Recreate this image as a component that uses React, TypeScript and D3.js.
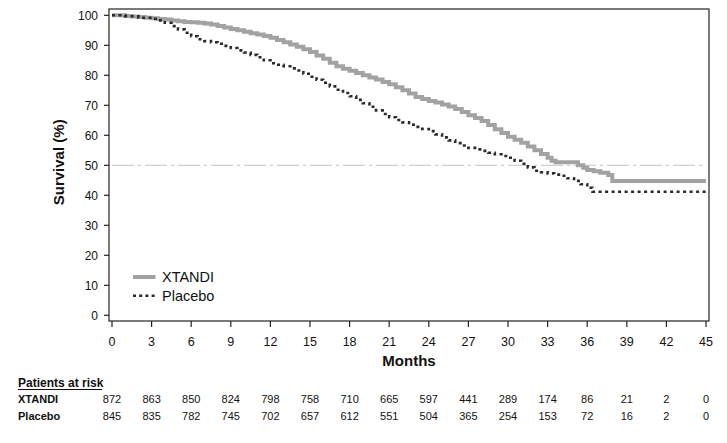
import React from "react";
import * as d3 from "d3";

const xtandiMonths = [0, 0.5, 1, 1.5, 2, 2.5, 3, 3.5, 4, 4.5, 5, 5.5, 6, 6.5, 7, 7.5, 8, 8.5, 9, 9.5, 10, 10.5, 11, 11.5, 12, 12.5, 13, 13.5, 14, 14.5, 15, 15.5, 16, 16.5, 17, 17.5, 18, 18.5, 19, 19.5, 20, 20.5, 21, 21.5, 22, 22.5, 23, 23.5, 24, 24.5, 25, 25.5, 26, 26.5, 27, 27.5, 28, 28.5, 29, 29.5, 30, 30.5, 31, 31.5, 32, 32.5, 33, 33.3, 33.6, 35.3, 35.7, 36, 36.5, 37, 37.6, 37.9, 45];
const xtandiSurv = [100, 100, 99.8, 99.6, 99.4, 99.2, 99, 98.8, 98.6, 98.3, 98, 97.8, 97.7, 97.5, 97.3, 96.9, 96.4, 95.9, 95.4, 95, 94.5, 94, 93.6, 93.1, 92.5, 91.8, 91, 90.3, 89.5, 88.7, 87.8, 86.6, 85.5, 84.2, 83, 82.2, 81.5, 80.8, 80, 79.3, 78.6, 77.8, 77, 76, 75, 73.9, 72.8, 72.1, 71.4, 70.9, 70.3, 69.6, 68.8, 67.8, 66.7, 65.8, 64.8, 63.4, 62, 60.8, 59.5, 58.5, 57.5, 56.3, 55, 53.8, 52.5, 51.5, 51, 50, 49.2, 48.4, 48, 47.5, 46.8, 44.8, 44.8];

const placeboMonths = [0, 1, 2, 3, 3.5, 4, 4.5, 5, 5.5, 6, 6.5, 7, 7.5, 8, 8.5, 9, 9.5, 10, 10.5, 11, 11.5, 12, 12.5, 13, 13.5, 14, 14.5, 15, 15.5, 16, 16.5, 17, 17.5, 18, 18.5, 19, 19.5, 20, 20.5, 21, 21.5, 22, 22.5, 23, 23.5, 24, 24.5, 25, 25.5, 26, 26.5, 27, 27.5, 28, 28.5, 29, 29.5, 30, 30.5, 31, 31.5, 32, 32.5, 33, 33.5, 34, 34.5, 35, 35.5, 36, 36.4, 45];
const placeboSurv = [100, 99.7, 99.2, 98.8, 98.3, 97.5, 96.4, 95.3, 94.2, 93, 92, 91.4, 91, 90.5, 89.8, 89.1, 88.3, 87.6, 86.8, 86, 85, 84, 83.5, 83, 82.3, 81.6, 80.5, 79.5, 78.5, 77.5, 76.3, 75.2, 74.1, 73, 71.8, 70.7, 69.5, 68.3, 67.1, 66, 65.1, 64.3, 63.5, 62.8, 62.1, 61.4, 60.3, 59.3, 58.3, 57.4, 56.6, 55.8, 55.3, 54.8, 54.2, 53.7, 53.1, 52.5, 51.5, 50.5, 49.3, 48.2, 47.7, 47.3, 46.9, 46.5, 45.7, 44.8, 43.7, 42.5, 41.2, 41.2];

const xTicks = [0, 3, 6, 9, 12, 15, 18, 21, 24, 27, 30, 33, 36, 39, 42, 45];
const yTicks = [0, 10, 20, 30, 40, 50, 60, 70, 80, 90, 100];

const riskXtandi = [872, 863, 850, 824, 798, 758, 710, 665, 597, 441, 289, 174, 86, 21, 2, 0];
const riskPlacebo = [845, 835, 782, 745, 702, 657, 612, 551, 504, 365, 254, 153, 72, 16, 2, 0];

const seriesNames = ["XTANDI", "Placebo"];

const FONT = "Liberation Sans, Arial, Helvetica, sans-serif";

export default function App() {
  const x = d3.scaleLinear().domain([0, 45]).range([112, 706]);
  const y = d3.scaleLinear().domain([0, 100]).range([315.3, 15.3]);

  const line = d3
    .line<[number, number]>()
    .x((d) => x(d[0]))
    .y((d) => y(d[1]))
    .curve(d3.curveStepAfter);

  const xtandiPath = line(xtandiMonths.map((m, i) => [m, xtandiSurv[i]] as [number, number])) || "";
  const placeboPath = line(placeboMonths.map((m, i) => [m, placeboSurv[i]] as [number, number])) || "";

  const frameL = 109, frameR = 709, frameT = 9, frameB = 321;
  const axisColor = "#222";

  return (
    <svg
      width={727}
      height={443}
      style={{ position: "absolute", left: 0, top: 0, background: "#fff" }}
      fontFamily={FONT}
    >
      <rect x={0} y={0} width={727} height={443} fill="#fff" />
      {/* 50% reference line */}
      <line
        x1={x(0)}
        x2={x(45)}
        y1={y(50)}
        y2={y(50)}
        stroke="#c4c4c4"
        strokeWidth={1}
        strokeDasharray="22,4,3,4"
      />
      {/* curves */}
      <path d={xtandiPath} fill="none" stroke="#a2a2a2" strokeWidth={4} />
      <path d={placeboPath} fill="none" stroke="#2a2a2a" strokeWidth={2.6} strokeDasharray="3,3.5" />

      {/* frame */}
      <rect
        x={frameL}
        y={frameT}
        width={frameR - frameL}
        height={frameB - frameT}
        fill="none"
        stroke={axisColor}
        strokeWidth={1.2}
      />

      {/* y ticks */}
      {yTicks.map((t) => (
        <g key={"y" + t}>
          <line x1={frameL - 5} x2={frameL} y1={y(t)} y2={y(t)} stroke={axisColor} strokeWidth={1.2} />
          <text x={98} y={y(t) + 4.3} textAnchor="end" fontSize={12} fill="#111">
            {t}
          </text>
        </g>
      ))}

      {/* x ticks */}
      {xTicks.map((t) => (
        <g key={"x" + t}>
          <line x1={x(t)} x2={x(t)} y1={frameB} y2={frameB + 6} stroke={axisColor} strokeWidth={1.2} />
          <text x={x(t)} y={346} textAnchor="middle" fontSize={12.5} fill="#111">
            {t}
          </text>
        </g>
      ))}

      {/* axis titles */}
      <text x={409} y={366} textAnchor="middle" fontSize={15} fontWeight="bold" fill="#111">
        Months
      </text>
      <text
        transform={`translate(64,${y(50) - 3}) rotate(-90)`}
        textAnchor="middle"
        fontSize={15}
        fontWeight="bold"
        fill="#111"
      >
        Survival (%)
      </text>

      {/* legend */}
      <line x1={133} x2={155.5} y1={277} y2={277} stroke="#a2a2a2" strokeWidth={4} />
      <text x={162} y={282} fontSize={14.5} fill="#111">
        {seriesNames[0]}
      </text>
      <line x1={133} x2={155.5} y1={295.7} y2={295.7} stroke="#2a2a2a" strokeWidth={2.6} strokeDasharray="3,3.2" />
      <text x={162} y={301} fontSize={14.5} fill="#111">
        {seriesNames[1]}
      </text>

      {/* patients at risk */}
      <text x={18} y={387} fontSize={12} fontWeight="bold" fill="#111">
        Patients at risk
      </text>
      <line x1={18} x2={102} y1={389.5} y2={389.5} stroke="#111" strokeWidth={1} />
      <text x={18} y={403} fontSize={11} fontWeight="bold" fill="#111">
        {seriesNames[0]}
      </text>
      <text x={18} y={420} fontSize={11} fontWeight="bold" fill="#111">
        {seriesNames[1]}
      </text>
      {riskXtandi.map((v, i) => (
        <text key={"rx" + i} x={x(xTicks[i])} y={403} textAnchor="middle" fontSize={11} fill="#111">
          {v}
        </text>
      ))}
      {riskPlacebo.map((v, i) => (
        <text key={"rp" + i} x={x(xTicks[i])} y={420} textAnchor="middle" fontSize={11} fill="#111">
          {v}
        </text>
      ))}
    </svg>
  );
}
